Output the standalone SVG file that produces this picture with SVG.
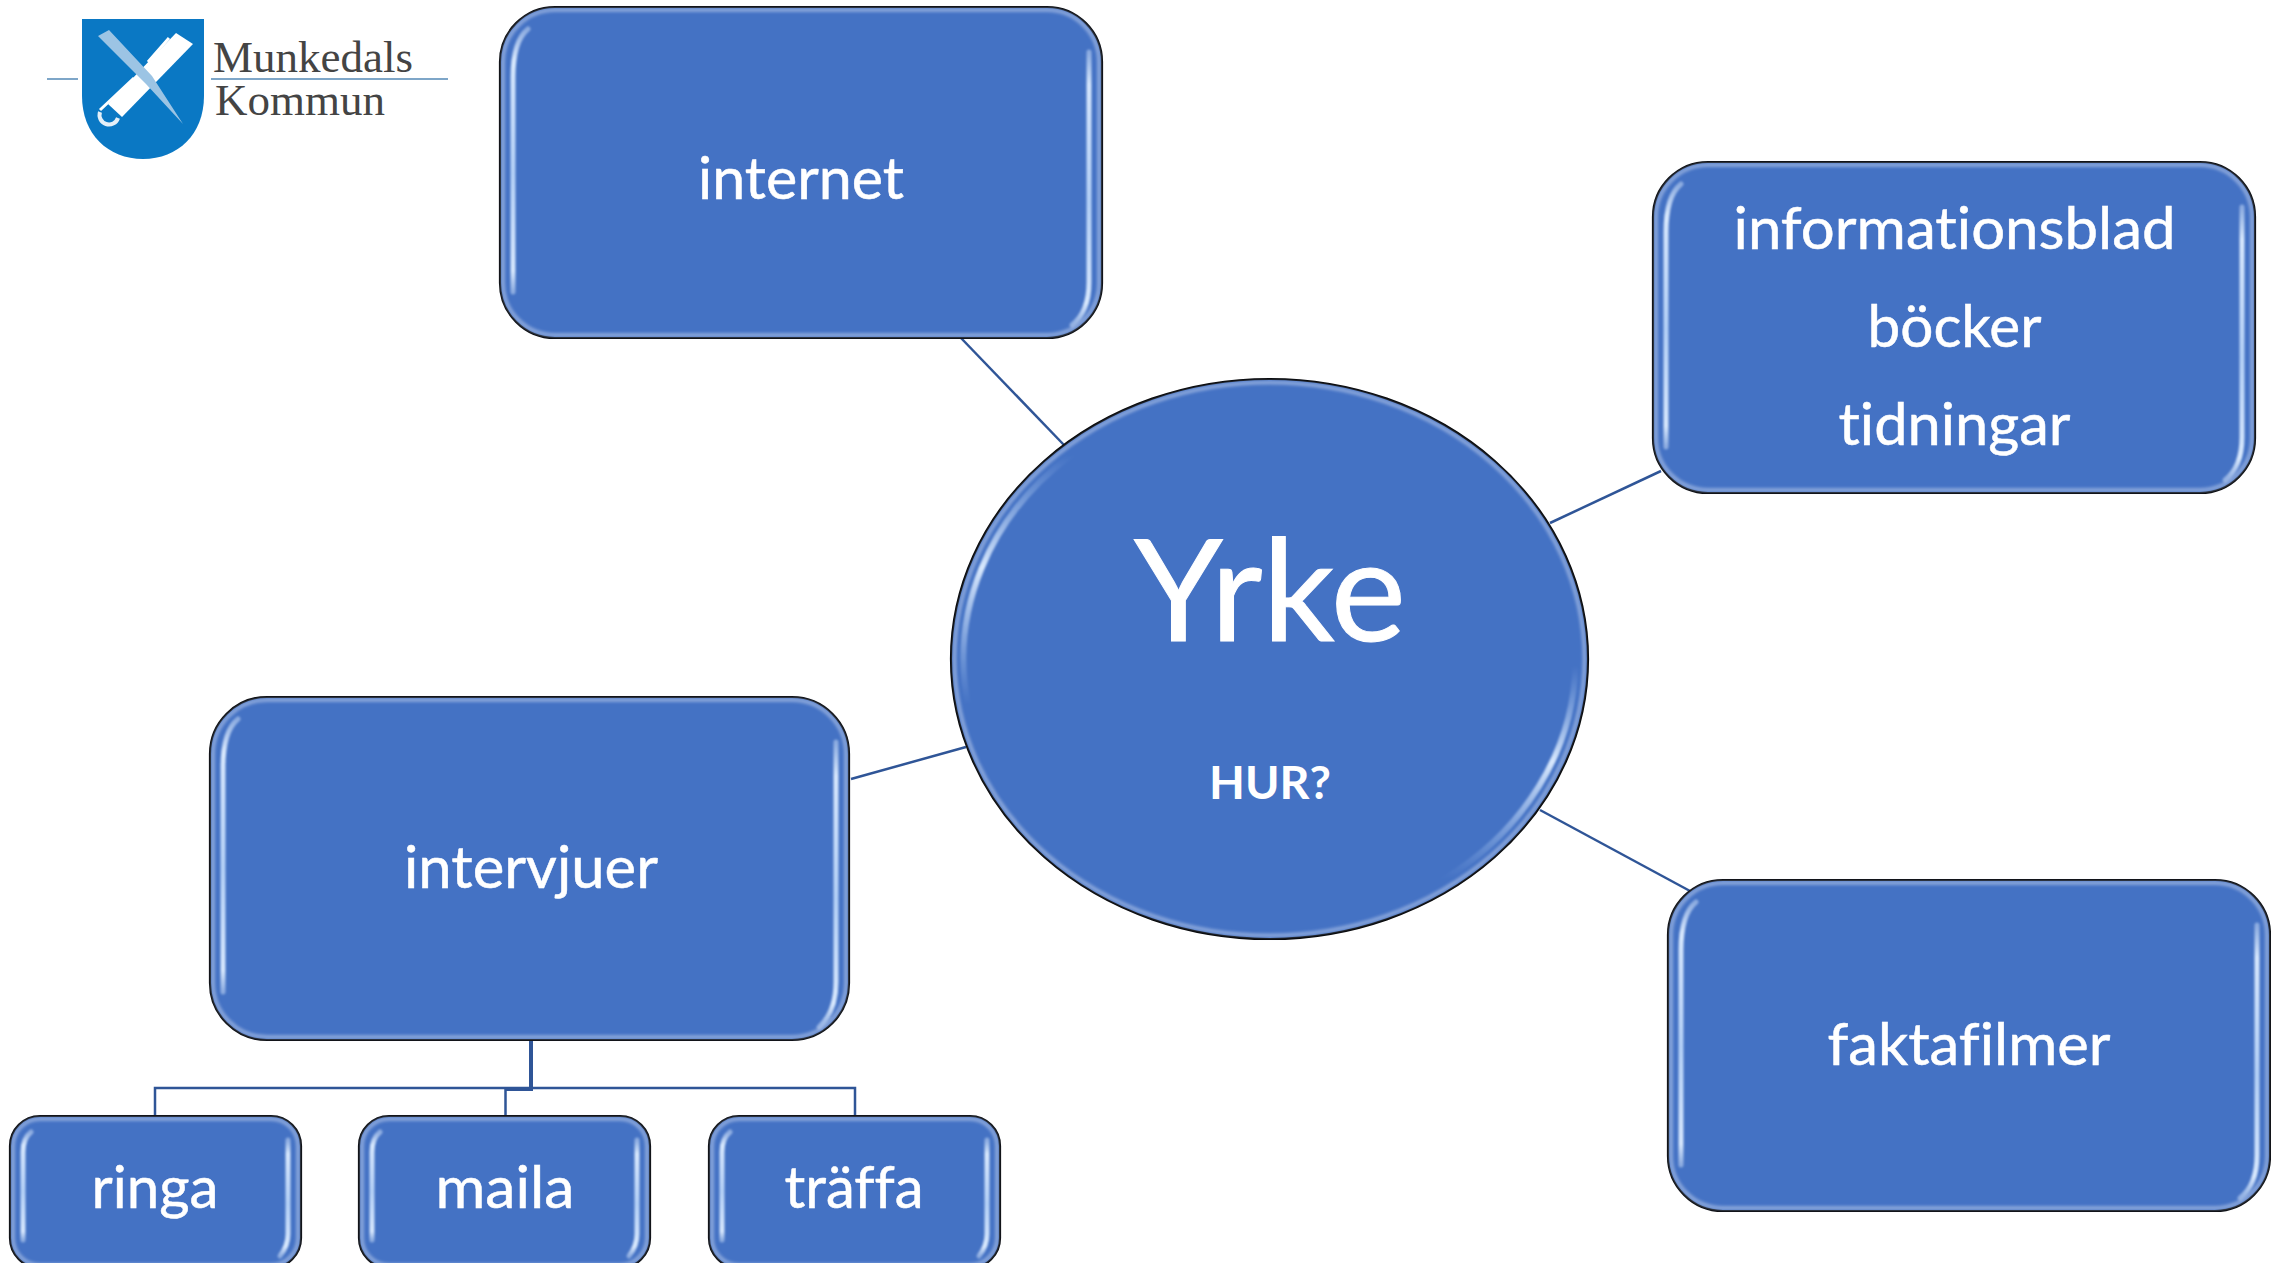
<svg xmlns="http://www.w3.org/2000/svg" width="2271" height="1263" viewBox="0 0 2271 1263">
<style>
text{font-family:Lato,"Liberation Sans",sans-serif;fill:#fff;text-anchor:middle;font-variant-ligatures:none}
.t{font-size:58px;stroke:#fff;stroke-width:.5}
.box{fill:#4472c4;stroke:#000;stroke-width:2.2}
.rim{fill:none;stroke:#9db5e2;stroke-width:4;opacity:.75;filter:url(#soft)}
.hl{fill:none;stroke:url(#hlv);stroke-width:5;stroke-linecap:round;filter:url(#soft2)}
.hc{fill:none;stroke:url(#hlc);stroke-width:6;stroke-linecap:round;filter:url(#soft2)}
.c{fill:none;stroke:#2f5597;stroke-width:2.5}
.lg{font-family:"Liberation Serif",serif;fill:#444;font-size:45px;text-anchor:start}
</style>
<defs>
<filter id="soft" x="-5%" y="-5%" width="110%" height="110%"><feGaussianBlur stdDeviation="1.6"/></filter>
<filter id="soft2" x="-60%" y="-10%" width="220%" height="120%"><feGaussianBlur stdDeviation=".8"/></filter>
<linearGradient id="hlv" x1="0" y1="0" x2="0" y2="1">
<stop offset="0" stop-color="#d2e4fc" stop-opacity=".5"/><stop offset=".12" stop-color="#d8e8fd"/><stop offset=".55" stop-color="#b4d0f6"/><stop offset=".92" stop-color="#d8e8fd"/><stop offset="1" stop-color="#d2e4fc" stop-opacity=".5"/>
</linearGradient>
<linearGradient id="hlc" x1="0" y1="0" x2="0" y2="1">
<stop offset="0" stop-color="#a9c8f2" stop-opacity="0"/><stop offset=".45" stop-color="#d8e8fd"/><stop offset="1" stop-color="#a9c8f2" stop-opacity="0"/>
</linearGradient>
<g id="big">
<rect class="box" width="602" height="331" rx="55"/>
<rect class="rim" x="3" y="3" width="596" height="325" rx="52"/>
<path class="hl" d="M28 22Q13 34 13 70L13 285"/>
<path class="hl" d="M589 45L589 275Q589 305 572 318"/>
</g>
<g id="mid">
<rect class="box" width="639" height="343" rx="57"/>
<rect class="rim" x="3" y="3" width="633" height="337" rx="54"/>
<path class="hl" d="M28 22Q13 34 13 70L13 295"/>
<path class="hl" d="M626 45L626 285Q626 315 609 330"/>
</g>
<g id="small">
<rect class="box" width="291" height="152" rx="30"/>
<rect class="rim" x="3" y="3" width="285" height="146" rx="27"/>
<path class="hl" d="M21 16Q13 22 13 36L13 124"/>
<path class="hl" d="M278 24L278 118Q278 130 270 140"/>
</g>
</defs>
<rect width="2271" height="1263" fill="#fff"/>
<g id="logo">
<path d="M47 79H78M211 79H448" fill="none" stroke="#7ea6c8" stroke-width="2"/>
<path d="M82 19H204V96C204 134 178 159 143 159C108 159 82 134 82 96Z" fill="#0a78c4"/>
<path d="M176 33L193 44L122 117L108 104Z" fill="#fff"/>
<path d="M169 38L148 62M134 78L100 110" stroke="#fff" stroke-width="3" fill="none"/>
<path d="M100 112A9 9 0 1 0 118 118" fill="none" stroke="#e4eff8" stroke-width="4"/>
<path d="M98 36L109 30L152 76L183 124L146 84Z" fill="#9cc4e4"/>
<text class="lg" x="213" y="72">Munkedals</text>
<text class="lg" x="215" y="115">Kommun</text>
</g>
<g id="connectors">
<path class="c" d="M961 338L1064 445"/>
<path class="c" d="M1550 523L1661 471"/>
<path class="c" d="M1540 810L1690 891"/>
<path class="c" d="M851 779L966 747"/>
<path class="c" style="stroke-width:4" d="M531 1040V1089H505"/>
<path class="c" d="M155 1116V1088H855V1116M505.500 1089V1116"/>
</g>
<g id="node-internet"><use href="#big" x="500" y="7"/><text class="t" x="801" y="199" textLength="206" lengthAdjust="spacingAndGlyphs">internet</text></g>
<g id="node-informationsblad"><use href="#big" x="1653" y="162"/>
<text class="t" x="1954.500" y="249" textLength="442" lengthAdjust="spacingAndGlyphs">informationsblad</text>
<text class="t" x="1954.500" y="347" textLength="174" lengthAdjust="spacingAndGlyphs">böcker</text>
<text class="t" x="1954.500" y="445" textLength="232" lengthAdjust="spacingAndGlyphs">tidningar</text></g>
<g id="node-faktafilmer"><use href="#big" x="1668" y="880"/><text class="t" x="1969" y="1065" textLength="283" lengthAdjust="spacingAndGlyphs">faktafilmer</text></g>
<g id="node-intervjuer"><use href="#mid" x="210" y="697"/><text class="t" x="531" y="888" textLength="254" lengthAdjust="spacingAndGlyphs">intervjuer</text></g>
<g id="node-ringa"><use href="#small" x="10" y="1116"/><text class="t" x="155" y="1208" textLength="127" lengthAdjust="spacingAndGlyphs">ringa</text></g>
<g id="node-maila"><use href="#small" x="359" y="1116"/><text class="t" x="505" y="1208" textLength="139" lengthAdjust="spacingAndGlyphs">maila</text></g>
<g id="node-traffa"><use href="#small" x="709" y="1116"/><text class="t" x="854" y="1208" textLength="139" lengthAdjust="spacingAndGlyphs">träffa</text></g>
<g id="node-yrke">
<ellipse class="box" cx="1269.500" cy="659" rx="318.500" ry="280"/>
<ellipse class="rim" cx="1269.500" cy="659" rx="315" ry="276.500"/>
<path class="hc" d="M1071 455A306 268 0 0 0 968 705"/>
<path class="hc" d="M1575.500 666A306 268 0 0 1 1444.500 879"/>
<text x="1270" y="641" style="font-size:142px;stroke:#fff;stroke-width:1" textLength="272" lengthAdjust="spacingAndGlyphs">Yrke</text>
<text x="1270" y="799" style="font-size:46px;font-weight:700" textLength="122" lengthAdjust="spacingAndGlyphs">HUR?</text>
</g>
</svg>
